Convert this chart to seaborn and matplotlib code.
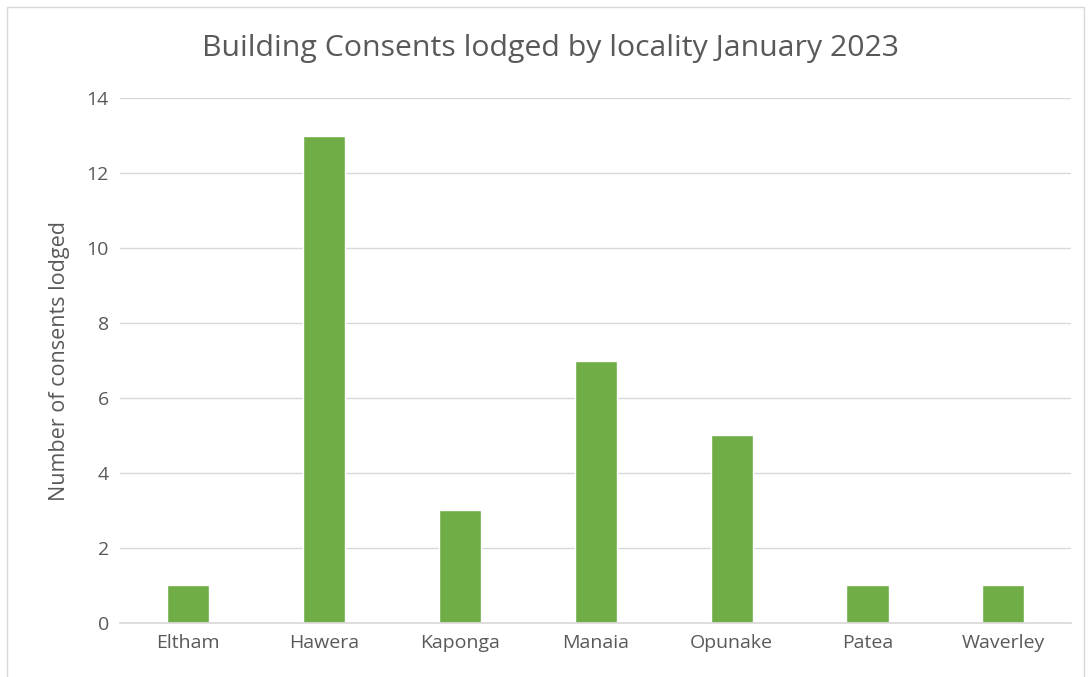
import matplotlib
matplotlib.use('Agg')
import matplotlib.pyplot as plt
import seaborn as sns
import pandas as pd
from matplotlib.patches import Rectangle

localities = ['Eltham', 'Hawera', 'Kaponga', 'Manaia', 'Opunake', 'Patea', 'Waverley']
consents = [1, 13, 3, 7, 5, 1, 1]

df = pd.DataFrame({'locality': localities, 'consents': consents})

sns.set_theme(style='white')
plt.rcParams['font.family'] = ['Open Sans', 'DejaVu Sans']

fig = plt.figure(figsize=(10.91, 6.77), dpi=100)
ax = fig.add_axes([0.110, 0.080, 0.872, 0.775])

sns.barplot(data=df, x='locality', y='consents', color='#70AD47',
            width=0.31, saturation=1, ax=ax)

ax.set_ylim(0, 14)
ax.set_yticks(range(0, 15, 2))
ax.grid(axis='y', color='#D9D9D9', linewidth=1)
ax.set_axisbelow(True)
for s in ['top', 'right', 'left']:
    ax.spines[s].set_visible(False)
ax.spines['bottom'].set_color('#D9D9D9')
ax.tick_params(axis='both', colors='#595959', labelsize=14, length=0, pad=8)
ax.set_xlabel('')
ax.set_ylabel('Number of consents lodged', color='#595959', fontsize=15.5, labelpad=12)

fig.text(0.505, 0.928, 'Building Consents lodged by locality January 2023',
         color='#595959', fontsize=21.8, ha='center', va='center')

fig.patches.append(Rectangle((0.006, -0.01), 0.988, 1.0, transform=fig.transFigure,
                             fill=False, edgecolor='#D9D9D9', linewidth=1))

fig.savefig('out.png', dpi=100, facecolor='white')
